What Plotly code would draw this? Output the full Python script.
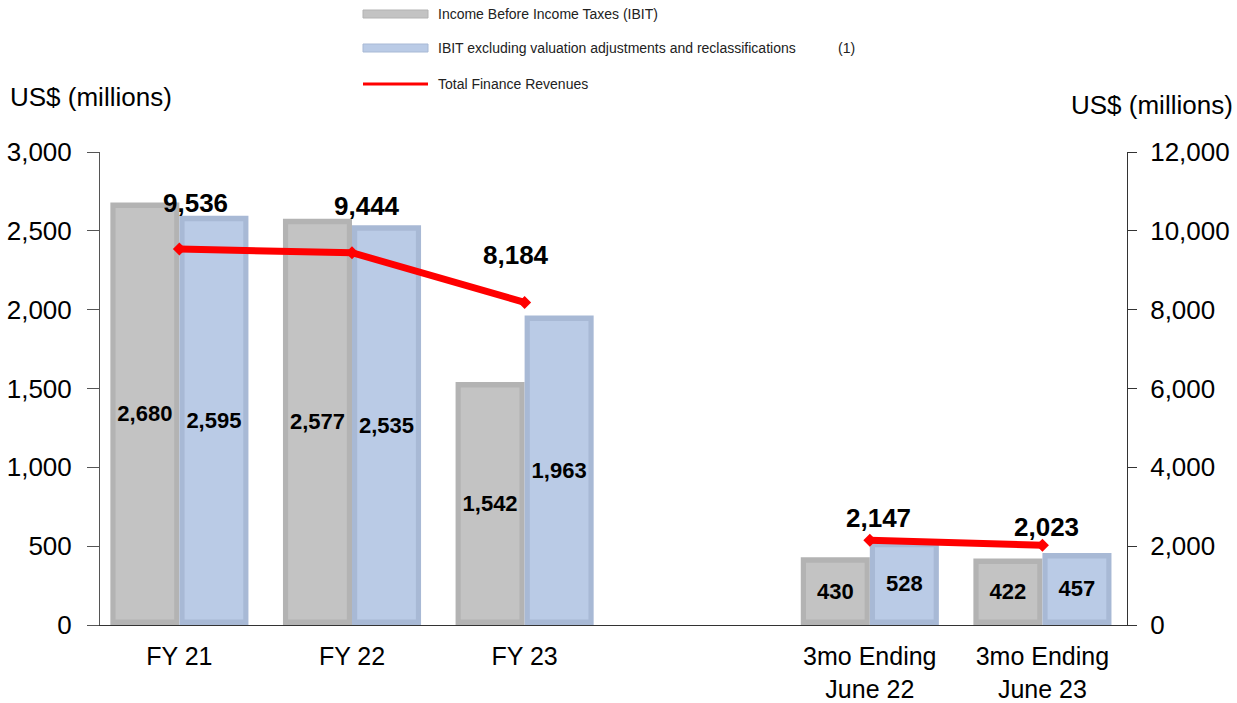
import plotly.graph_objects as go

# data
categories = ["FY 21", "FY 22", "FY 23", "3mo Ending<br>June 22", "3mo Ending<br>June 23"]
slots = [0, 1, 2, 4, 5]  # empty slot between the fiscal years and the quarters
ibit = [2680, 2577, 1542, 430, 422]
ibit_excl = [2595, 2535, 1963, 528, 457]
finance_rev = [9536, 9444, 8184, 2147, 2023]

# label nudges for the revenue values (px)
rev_xshift = [16, 15, -9, 9, 4]
rev_yshift = [46, 47, 47, 22, 18]

FONT = "Liberation Sans, Arial, sans-serif"
GREY_EDGE, GREY_FACE = "#b3b3b3", "#c3c3c3"
BLUE_EDGE, BLUE_FACE = "#a8b9d5", "#bacbe6"
BW = 0.4      # bar width in x units
INSET = 0.03  # bevel width in x units
BEVEL = 35    # bevel height in left-axis units

fig = go.Figure()

def add_bevel_bar(vals, offset, edge, face, name):
    # outer bar = bevel edge
    fig.add_trace(go.Bar(
        x=slots, y=vals, offset=offset, width=BW, name=name,
        marker=dict(color=edge, line=dict(width=0)),
        showlegend=False, hoverinfo="skip",
    ))
    # inner face with the value label
    fig.add_trace(go.Bar(
        x=slots, y=[v - 2 * BEVEL for v in vals], base=BEVEL,
        offset=offset + INSET, width=BW - 2 * INSET, name=name,
        marker=dict(color=face, line=dict(width=0)),
        text=[f"{v:,}" for v in vals], textposition="inside",
        insidetextanchor="middle", textangle=0, constraintext="none",
        textfont=dict(family=FONT, size=22, color="black", weight="bold"),
        showlegend=False,
    ))

add_bevel_bar(ibit, -BW, GREY_EDGE, GREY_FACE, "Income Before Income Taxes (IBIT)")
add_bevel_bar(ibit_excl, 0, BLUE_EDGE, BLUE_FACE,
              "IBIT excluding valuation adjustments and reclassifications (1)")

for part in (slice(0, 3), slice(3, 5)):
    fig.add_trace(go.Scatter(
        x=slots[part], y=finance_rev[part], yaxis="y2", mode="lines+markers",
        line=dict(color="#ff0000", width=7),
        marker=dict(symbol="diamond", size=10, color="#ff0000"),
        name="Total Finance Revenues", showlegend=False,
    ))

for s, v, dx, dy in zip(slots, finance_rev, rev_xshift, rev_yshift):
    fig.add_annotation(x=s, y=v, yref="y2", text=f"<b>{v:,}</b>", showarrow=False,
                       xshift=dx, yshift=dy, font=dict(family=FONT, size=26, color="black"))

# custom legend (wide swatches like the original)
def px_x(p):
    return (p - 100) / 1027

def px_y(p):
    return (625 - p) / 473

legend_items = [
    ("Income Before Income Taxes (IBIT)", 14, "bar", GREY_FACE, GREY_EDGE),
    ("IBIT excluding valuation adjustments and reclassifications", 48, "bar", BLUE_FACE, BLUE_EDGE),
    ("Total Finance Revenues", 84, "line", "#ff0000", "#ff0000"),
]
for label, yy, kind, face, edge in legend_items:
    if kind == "bar":
        fig.add_shape(type="rect", xref="paper", yref="paper",
                      x0=px_x(363), x1=px_x(428), y0=px_y(yy + 4), y1=px_y(yy - 4),
                      fillcolor=face, line=dict(color=edge, width=1))
    else:
        fig.add_shape(type="line", xref="paper", yref="paper",
                      x0=px_x(363), x1=px_x(428), y0=px_y(yy), y1=px_y(yy),
                      line=dict(color=face, width=3))
    fig.add_annotation(xref="paper", yref="paper", x=px_x(436), y=px_y(yy), text=label,
                       showarrow=False, xanchor="left", yanchor="middle",
                       font=dict(family=FONT, size=14, color="#222"))
fig.add_annotation(xref="paper", yref="paper", x=px_x(836), y=px_y(48), text="(1)",
                   showarrow=False, xanchor="left", yanchor="middle",
                   font=dict(family=FONT, size=14, color="#222"))

# axis titles
fig.add_annotation(xref="paper", yref="paper", x=px_x(8), y=px_y(97), text="US$ (millions)",
                   showarrow=False, xanchor="left", yanchor="middle",
                   font=dict(family=FONT, size=26, color="black"))
fig.add_annotation(xref="paper", yref="paper", x=px_x(1235), y=px_y(105), text="US$ (millions)",
                   showarrow=False, xanchor="right", yanchor="middle",
                   font=dict(family=FONT, size=26, color="black"))

fig.update_layout(
    width=1237, height=703,
    barmode="overlay",
    plot_bgcolor="white", paper_bgcolor="white",
    margin=dict(l=100, r=110, t=152, b=78, autoexpand=False),
    showlegend=False,
    font=dict(family=FONT, size=26, color="black"),
    xaxis=dict(
        range=[-0.46, 5.49], tickvals=slots, ticktext=categories, automargin=False,
        showgrid=False, zeroline=False, showline=True, linecolor="#333", linewidth=1,
        ticks="", tickfont=dict(size=25), ticklabelstandoff=9,
    ),
    yaxis=dict(
        range=[0, 3000], dtick=500, tickformat=",", showgrid=False, zeroline=False,
        showline=True, linecolor="#555", linewidth=1, ticks="outside", ticklen=12,
        tickcolor="#555", tickfont=dict(size=26), ticklabelstandoff=10, automargin=False,
    ),
    yaxis2=dict(
        range=[0, 12000], dtick=2000, tickformat=",", overlaying="y", side="right",
        showgrid=False, zeroline=False, showline=True, linecolor="#333", linewidth=1,
        ticks="outside", ticklen=9, tickcolor="#333", tickfont=dict(size=26),
        ticklabelstandoff=8, automargin=False,
    ),
)

fig.write_html("out.html", config={"displayModeBar": False},
               post_script="document.body.style.margin='0';")
